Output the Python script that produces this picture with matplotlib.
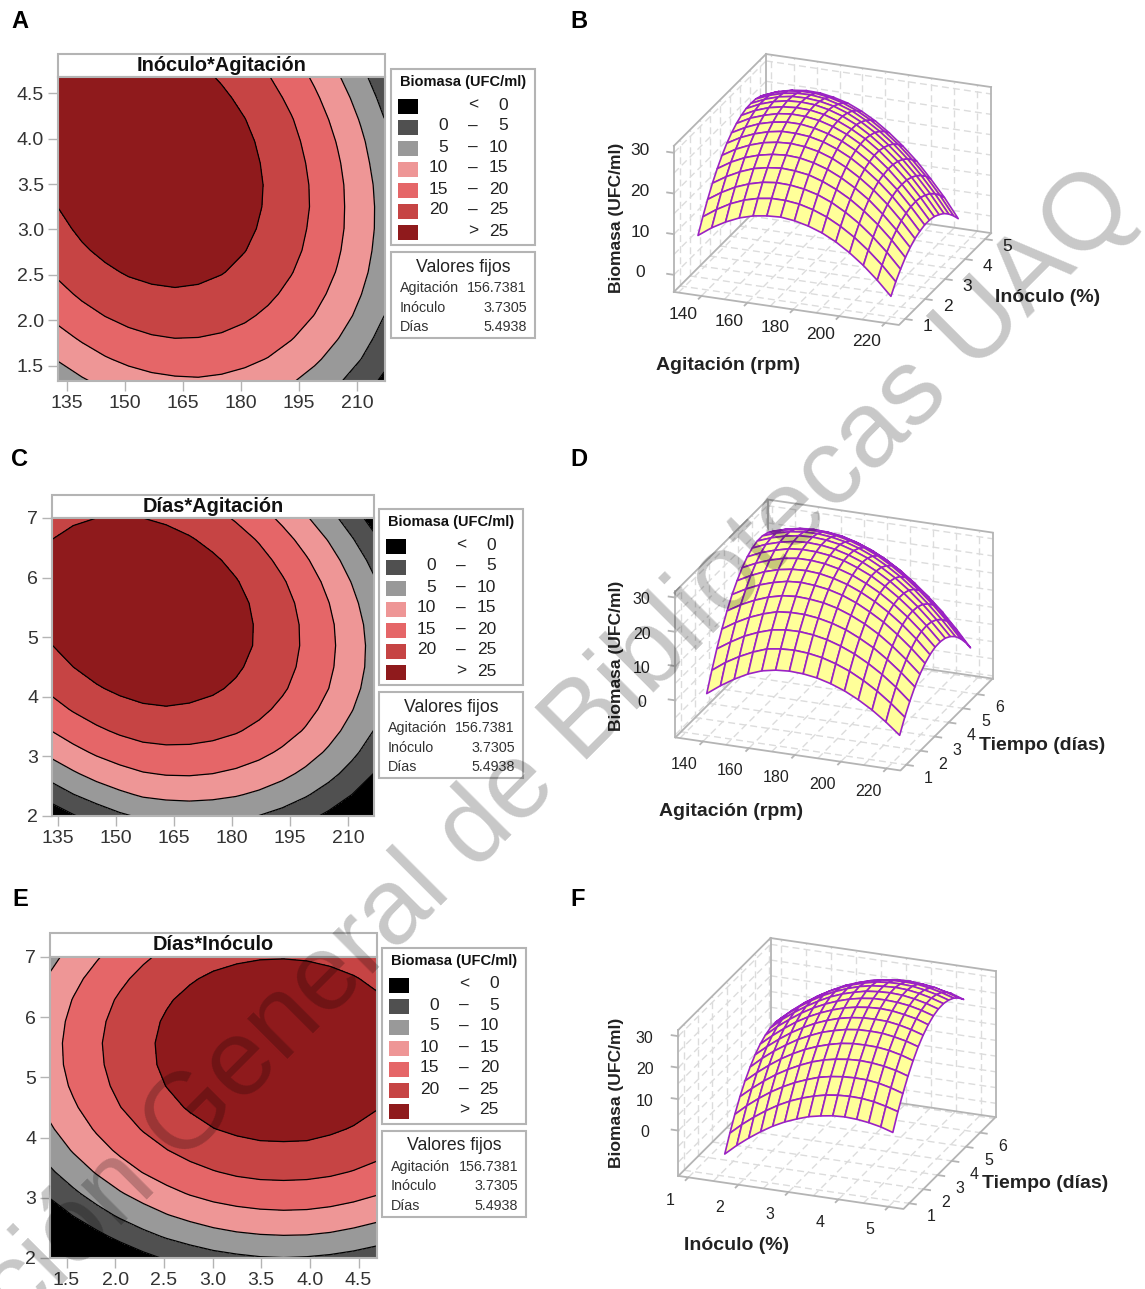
import numpy as np
import matplotlib
matplotlib.use("Agg")
import matplotlib.pyplot as plt
from matplotlib.patches import Rectangle

plt.rcParams['font.family'] = ['Liberation Sans', 'DejaVu Sans']

W, H = 1145, 1289

agitacion = [133, 139, 145, 151, 157, 163, 169, 175, 181, 187, 193, 199, 205, 211, 217]
inoculo = [1.33, 1.57, 1.81, 2.05, 2.29, 2.53, 2.77, 3.01, 3.25, 3.49, 3.73, 3.97, 4.21, 4.45, 4.69]
dias = [2.0, 2.36, 2.71, 3.07, 3.43, 3.79, 4.14, 4.5, 4.86, 5.21, 5.57, 5.93, 6.29, 6.64, 7.0]

# rows follow inoculo, columns follow agitacion
biomasa_ia = [
    [7.0, 9.4, 11.3, 12.8, 13.8, 14.3, 14.5, 14.1, 13.3, 12.1, 10.4, 8.2, 5.6, 2.5, -1.0],
    [10.4, 12.7, 14.6, 16.0, 16.9, 17.4, 17.4, 17.0, 16.1, 14.8, 13.0, 10.8, 8.1, 5.0, 1.4],
    [13.5, 15.7, 17.5, 18.8, 19.7, 20.1, 20.0, 19.5, 18.6, 17.2, 15.3, 13.0, 10.2, 7.0, 3.3],
    [16.3, 18.4, 20.1, 21.4, 22.1, 22.5, 22.3, 21.8, 20.7, 19.2, 17.3, 14.9, 12.1, 8.8, 5.0],
    [18.7, 20.8, 22.4, 23.5, 24.2, 24.5, 24.3, 23.6, 22.5, 20.9, 18.9, 16.5, 13.5, 10.1, 6.3],
    [20.8, 22.8, 24.3, 25.4, 26.0, 26.2, 25.9, 25.2, 24.0, 22.3, 20.2, 17.7, 14.7, 11.2, 7.3],
    [22.6, 24.5, 25.9, 26.9, 27.5, 27.5, 27.2, 26.4, 25.1, 23.4, 21.2, 18.6, 15.5, 11.9, 7.9],
    [24.0, 25.8, 27.2, 28.1, 28.6, 28.6, 28.1, 27.2, 25.9, 24.1, 21.8, 19.1, 16.0, 12.3, 8.3],
    [25.1, 26.9, 28.1, 29.0, 29.4, 29.3, 28.8, 27.8, 26.4, 24.5, 22.2, 19.4, 16.1, 12.4, 8.3],
    [25.9, 27.6, 28.8, 29.5, 29.8, 29.7, 29.1, 28.0, 26.5, 24.6, 22.2, 19.3, 16.0, 12.2, 8.0],
    [26.4, 28.0, 29.1, 29.8, 30.0, 29.8, 29.1, 28.0, 26.4, 24.3, 21.8, 18.9, 15.5, 11.6, 7.3],
    [26.5, 28.0, 29.1, 29.7, 29.8, 29.5, 28.8, 27.6, 25.9, 23.8, 21.2, 18.2, 14.7, 10.8, 6.4],
    [26.4, 27.8, 28.8, 29.3, 29.4, 29.0, 28.1, 26.9, 25.1, 22.9, 20.3, 17.2, 13.6, 9.6, 5.1],
    [25.9, 27.3, 28.2, 28.6, 28.6, 28.1, 27.2, 25.8, 24.0, 21.7, 19.0, 15.8, 12.2, 8.1, 3.5],
    [25.1, 26.4, 27.2, 27.6, 27.5, 26.9, 26.0, 24.5, 22.6, 20.2, 17.4, 14.2, 10.4, 6.3, 1.6],
]

# rows follow dias, columns follow agitacion
biomasa_da = [
    [-3.3, -0.4, 2.1, 4.2, 5.7, 6.5, 6.8, 6.6, 6.0, 4.9, 3.4, 1.4, -1.0, -3.9, -7.2],
    [2.0, 4.9, 7.2, 9.1, 10.6, 11.2, 11.4, 11.1, 10.4, 9.2, 7.6, 5.5, 3.0, -0.0, -3.4],
    [6.8, 9.4, 11.7, 13.4, 14.7, 15.3, 15.4, 15.0, 14.2, 12.9, 11.2, 9.0, 6.4, 3.3, -0.3],
    [11.1, 13.6, 15.7, 17.3, 18.5, 18.9, 18.9, 18.4, 17.5, 16.2, 14.3, 12.1, 9.3, 6.1, 2.5],
    [14.9, 17.3, 19.2, 20.7, 21.7, 22.1, 21.9, 21.4, 20.4, 18.9, 17.0, 14.6, 11.7, 8.4, 4.7],
    [18.2, 20.4, 22.2, 23.5, 24.4, 24.7, 24.4, 23.8, 22.7, 21.1, 19.0, 16.6, 13.6, 10.2, 6.4],
    [20.8, 22.9, 24.6, 25.8, 26.5, 26.7, 26.4, 25.6, 24.4, 22.7, 20.6, 18.0, 15.0, 11.5, 7.5],
    [23.1, 25.0, 26.5, 27.6, 28.2, 28.2, 27.8, 26.9, 25.6, 23.8, 21.6, 18.9, 15.8, 12.2, 8.2],
    [24.8, 26.6, 27.9, 28.9, 29.3, 29.2, 28.7, 27.8, 26.3, 24.5, 22.1, 19.3, 16.1, 12.4, 8.3],
    [25.9, 27.6, 28.8, 29.6, 29.9, 29.7, 29.1, 28.0, 26.5, 24.5, 22.1, 19.2, 15.9, 12.1, 7.9],
    [26.5, 28.0, 29.1, 29.8, 30.0, 29.7, 29.0, 27.8, 26.2, 24.1, 21.6, 18.6, 15.1, 11.2, 6.9],
    [26.5, 27.9, 28.9, 29.4, 29.5, 29.1, 28.3, 27.0, 25.3, 23.1, 20.5, 17.4, 13.8, 9.8, 5.4],
    [25.9, 27.2, 28.1, 28.5, 28.5, 28.0, 27.1, 25.7, 23.9, 21.6, 18.8, 15.6, 12.0, 7.9, 3.3],
    [24.9, 26.1, 26.9, 27.2, 27.0, 26.5, 25.4, 23.9, 22.0, 19.6, 16.7, 13.4, 9.7, 5.4, 0.8],
    [23.3, 24.4, 25.0, 25.3, 25.0, 24.3, 23.2, 21.6, 19.5, 17.0, 14.0, 10.6, 6.8, 2.4, -2.3],
]

# rows follow dias, columns follow inoculo
biomasa_di = [
    [-12.5, -9.2, -6.3, -3.7, -1.4, 0.5, 2.0, 3.3, 4.1, 4.7, 4.9, 4.7, 4.2, 3.4, 2.2],
    [-7.5, -4.2, -1.3, 1.3, 3.6, 5.5, 7.0, 8.2, 9.1, 9.6, 9.8, 9.7, 9.2, 8.3, 7.2],
    [-3.1, 0.2, 3.1, 5.7, 7.9, 9.8, 11.3, 12.6, 13.4, 13.9, 14.1, 14.0, 13.5, 12.6, 11.4],
    [0.9, 4.1, 7.0, 9.6, 11.8, 13.7, 15.3, 16.5, 17.3, 17.8, 18.0, 17.8, 17.3, 16.5, 15.3],
    [4.3, 7.5, 10.4, 13.0, 15.2, 17.1, 18.6, 19.8, 20.7, 21.2, 21.3, 21.2, 20.7, 19.8, 18.6],
    [7.1, 10.4, 13.3, 15.8, 18.1, 19.9, 21.5, 22.6, 23.5, 24.0, 24.1, 24.0, 23.4, 22.6, 21.4],
    [9.4, 12.6, 15.5, 18.1, 20.3, 22.2, 23.7, 24.9, 25.7, 26.2, 26.3, 26.2, 25.6, 24.7, 23.5],
    [11.2, 14.4, 17.3, 19.9, 22.1, 23.9, 25.4, 26.6, 27.4, 27.9, 28.1, 27.9, 27.3, 26.5, 25.2],
    [12.4, 15.7, 18.5, 21.1, 23.3, 25.1, 26.6, 27.8, 28.6, 29.1, 29.2, 29.0, 28.5, 27.6, 26.4],
    [13.1, 16.4, 19.2, 21.7, 23.9, 25.8, 27.3, 28.4, 29.3, 29.7, 29.9, 29.7, 29.1, 28.2, 27.0],
    [13.3, 16.5, 19.4, 21.9, 24.1, 25.9, 27.4, 28.6, 29.4, 29.8, 30.0, 29.8, 29.2, 28.3, 27.1],
    [12.9, 16.1, 19.0, 21.5, 23.7, 25.5, 27.0, 28.1, 29.0, 29.4, 29.5, 29.3, 28.7, 27.8, 26.6],
    [12.0, 15.2, 18.1, 20.6, 22.7, 24.6, 26.0, 27.2, 28.0, 28.4, 28.5, 28.3, 27.7, 26.8, 25.6],
    [10.6, 13.8, 16.6, 19.1, 21.3, 23.1, 24.6, 25.7, 26.5, 27.0, 27.1, 26.8, 26.3, 25.3, 24.1],
    [8.6, 11.8, 14.6, 17.1, 19.3, 21.1, 22.6, 23.7, 24.3, 24.7, 24.8, 24.6, 24.0, 23.3, 22.0],
]

niveles = [-100, 0, 5, 10, 15, 20, 25, 100]
colores = ['#000000', '#505050', '#999999', '#EE9696', '#E56668', '#C64444', '#8F1A1C']
rango_bajo = ['', '0', '5', '10', '15', '20', '']
rango_signo = ['<', '–', '–', '–', '–', '–', '>']
rango_alto = ['0', '5', '10', '15', '20', '25', '25']
fijos_nombres = ['Agitación', 'Inóculo', 'Días']
fijos_valores = ['156.7381', '3.7305', '5.4938']

ag_ticks = [135, 150, 165, 180, 195, 210]
in_ticks = [1.5, 2, 2.5, 3, 3.5, 4, 4.5]
di_ticks = [2, 3, 4, 5, 6, 7]
ag_ticks3d = [140, 160, 180, 200, 220]
ag_rejilla = [130, 140, 150, 160, 170, 180, 190, 200, 210, 220]
in_ticks3d = [1, 2, 3, 4, 5]
in_rejilla = [1, 1.5, 2, 2.5, 3, 3.5, 4, 4.5, 5]
di_ticks3d = [1, 2, 3, 4, 5, 6]
di_rejilla = [1, 2, 3, 4, 5, 6, 7]
z_ticks = [0, 10, 20, 30]
z_rejilla = [-10, -5, 0, 5, 10, 15, 20, 25, 30]

GRIS = '#b4b4b4'
fig = plt.figure(figsize=(W/100, H/100), dpi=100)
page = fig.add_axes([0, 0, 1, 1])
page.set_xlim(0, W)
page.set_ylim(H, 0)
page.axis('off')


def caja(x0, y0, x1, y1):
    page.add_patch(Rectangle((x0, y0), x1-x0, y1-y0, fc='white', ec=GRIS, lw=1.5))


def leyenda(x0, y0, y1, y2, y3):
    caja(x0, y0, x0+144, y1)
    page.text(x0+72, y0+13, 'Biomasa (UFC/ml)', fontsize=10.5, fontweight='bold', ha='center', va='center', color='#111111')
    for i in range(7):
        yy = y0 + 36 + 21*i
        page.add_patch(Rectangle((x0+7, yy-6), 20, 15, fc=colores[i], ec='none'))
        page.text(x0+57, yy, rango_bajo[i], fontsize=12.5, ha='right', va='center', color='#222222')
        page.text(x0+82, yy, rango_signo[i], fontsize=12.5, ha='center', va='center', color='#222222')
        page.text(x0+117, yy, rango_alto[i], fontsize=12.5, ha='right', va='center', color='#222222')
    caja(x0, y2, x0+144, y3)
    page.text(x0+72, y2+15, 'Valores fijos', fontsize=12.7, ha='center', va='center', color='#222222')
    for i in range(3):
        yy = y2 + 36 + 19.5*i
        page.text(x0+9, yy, fijos_nombres[i], fontsize=10.3, ha='left', va='center', color='#333333')
        page.text(x0+136, yy, fijos_valores[i], fontsize=10.3, ha='right', va='center', color='#333333')


def contorno(x, y, z, xlim, ylim, xticks, yticks, box, title_top, titulo, xfmt, yfmt):
    left, top, right, bottom = box
    caja(left, title_top, right, top)
    page.text((left+right)/2, (title_top+top)/2, titulo, fontsize=14.4, fontweight='bold', ha='center', va='center', color='#111111')
    ax = fig.add_axes([left/W, 1-bottom/H, (right-left)/W, (bottom-top)/H])
    ax.contourf(x, y, z, levels=niveles, colors=colores)
    ax.contour(x, y, z, levels=niveles[1:-1], colors='black', linewidths=0.9)
    ax.set_xlim(xlim)
    ax.set_ylim(ylim)
    ax.set_xticks(xticks, [xfmt % v for v in xticks])
    ax.set_yticks(yticks, [yfmt % v for v in yticks])
    ax.tick_params(length=7, width=1, color=GRIS, labelsize=14, labelcolor='#333333', pad=3)
    for s in ax.spines.values():
        s.set_color(GRIS)
        s.set_linewidth(1.5)


def superficie(x, y, z, centro, lims, xt, yt, xs, ys, fs, baja):
    S = 375
    cx, cy = centro
    ax = fig.add_axes([(cx-.5135*S)/W, 1-(cy+.5135*S)/H, S/W, S/H], projection='3d', proj_type='ortho')
    ax.view_init(elev=22.5, azim=-69)
    ax.set_box_aspect((241, 257, 158))
    ax.set_axis_off()
    ax.patch.set_alpha(0)
    ax.computed_zorder = False
    (x0, x1), (y0, y1), (z0, z1) = lims
    ax.set_xlim(x0, x1)
    ax.set_ylim(y0, y1)
    ax.set_zlim(z0, z1)
    zs = [v for v in z_rejilla if v >= z0]
    rej = dict(color='#dcdcdc', lw=1, ls=(0, (5, 3)), zorder=1)
    for v in xs:
        ax.plot([v, v], [y0, y1], [z0, z0], **rej)
        ax.plot([v, v], [y1, y1], [z0, z1], **rej)
    for v in ys:
        ax.plot([x0, x1], [v, v], [z0, z0], **rej)
        ax.plot([x0, x0], [v, v], [z0, z1], **rej)
    for v in zs:
        ax.plot([x0, x0], [y0, y1], [v, v], **rej)
        ax.plot([x0, x1], [y1, y1], [v, v], **rej)
    borde = dict(color=GRIS, lw=1.3, zorder=1.5)
    ax.plot([x0, x1, x1], [y0, y0, y1], [z0, z0, z0], **borde)
    ax.plot([x0, x0], [y0, y1], [z1, z1], **borde)
    ax.plot([x0, x1], [y1, y1], [z1, z1], **borde)
    ax.plot([x0, x0], [y0, y0], [z0, z1], **borde)
    ax.plot([x0, x0], [y1, y1], [z0, z1], **borde)
    ax.plot([x1, x1], [y1, y1], [z0, z1], **borde)
    ax.plot([x0, x1], [y1, y1], [z0, z0], **borde)
    ax.plot([x0, x0], [y0, y1], [z0, z0], **borde)
    X, Y = np.meshgrid(x, y)
    ax.plot_surface(X, Y, np.array(z), rstride=1, cstride=1, color='#FFFF99', edgecolor='#9A22C4', linewidth=1.2, shade=False, zorder=2)
    dx, dy, dz = x1-x0, y1-y0, z1-z0
    for v in xt:
        ax.plot([v, v], [y0, y0-.03*dy], [z0, z0], **borde)
        ax.text(v, y0-.2*dy, z0-baja[0]*dz, str(v), fontsize=fs, ha='center', va='center', color='#222222')
    for v in yt:
        ax.plot([x1, x1+.03*dx], [v, v], [z0, z0], **borde)
        ax.text(x1+.1*dx, v, z0-baja[1]*dz, str(v), fontsize=fs, ha='center', va='center', color='#222222')
    for v in z_ticks:
        ax.plot([x0, x0-.03*dx], [y0, y0], [v, v], **borde)
        ax.text(x0-.15*dx, y0, v-baja[2]*dz, str(v), fontsize=fs, ha='center', va='center', color='#222222')


for txt, xx, yy in [('A', 20, 21), ('B', 579, 21), ('C', 20, 460), ('D', 579, 460), ('E', 20, 900), ('F', 578, 900)]:
    page.text(xx, yy, txt, fontsize=17, fontweight='bold', ha='center', va='center', color='black')

contorno(agitacion, inoculo, biomasa_ia, (132.8, 217.2), (1.33, 4.68), ag_ticks, in_ticks,
         (58, 77, 385, 381), 54, 'Inóculo*Agitación', '%d', '%.1f')
contorno(agitacion, dias, biomasa_da, (133.5, 216.7), (2, 7), ag_ticks, di_ticks,
         (52, 518, 374, 816), 495, 'Días*Agitación', '%d', '%d')
contorno(inoculo, dias, biomasa_di, (1.33, 4.69), (2, 7), in_ticks, di_ticks,
         (50, 957, 377, 1258), 933, 'Días*Inóculo', '%.1f', '%d')
leyenda(391, 69, 245, 252, 338)
leyenda(379, 509, 685, 692, 778)
leyenda(382, 948, 1124, 1131, 1217)

superficie(agitacion, inoculo, biomasa_ia, (832.5, 189.5), ((128, 226), (.7, 5.3), (-4.2, 31.7)),
           ag_ticks3d, in_ticks3d, ag_rejilla, in_rejilla, 12.5, (0, .027, .02))
superficie(agitacion, dias, biomasa_da, (834, 635), ((128, 226), (.6, 7.1), (-10.8, 31.8)),
           ag_ticks3d, di_ticks3d, ag_rejilla, di_rejilla, 11.5, (.03, .07, .05))
superficie(inoculo, dias, biomasa_di, (837, 1073.5), ((.8, 5.3), (.6, 7.1), (-14.4, 32)),
           in_ticks3d, di_ticks3d, in_rejilla, di_rejilla, 11.5, (.03, .07, .05))

eje = dict(fontsize=14, fontweight='bold', ha='center', va='center', color='#222222')
for txt, xx, yy in [('Agitación (rpm)', 728, 365), ('Inóculo (%)', 1048, 297), ('Agitación (rpm)', 731, 812),
                    ('Tiempo (días)', 1042, 746), ('Inóculo (%)', 737, 1246), ('Tiempo (días)', 1045, 1184)]:
    page.text(xx, yy, txt, **eje)
for yy in [218, 656, 1093]:
    page.text(617, yy, 'Biomasa (UFC/ml)', rotation=90, fontsize=12.6, fontweight='bold', ha='center', va='center', color='#222222')

fig.text(1139/W, 1-208/H, 'Dirección General de Bibliotecas UAQ', fontsize=78, color='black', alpha=.22,
         rotation=45, rotation_mode='anchor', ha='right', va='baseline', zorder=10)

fig.savefig('out.png', dpi=100)
